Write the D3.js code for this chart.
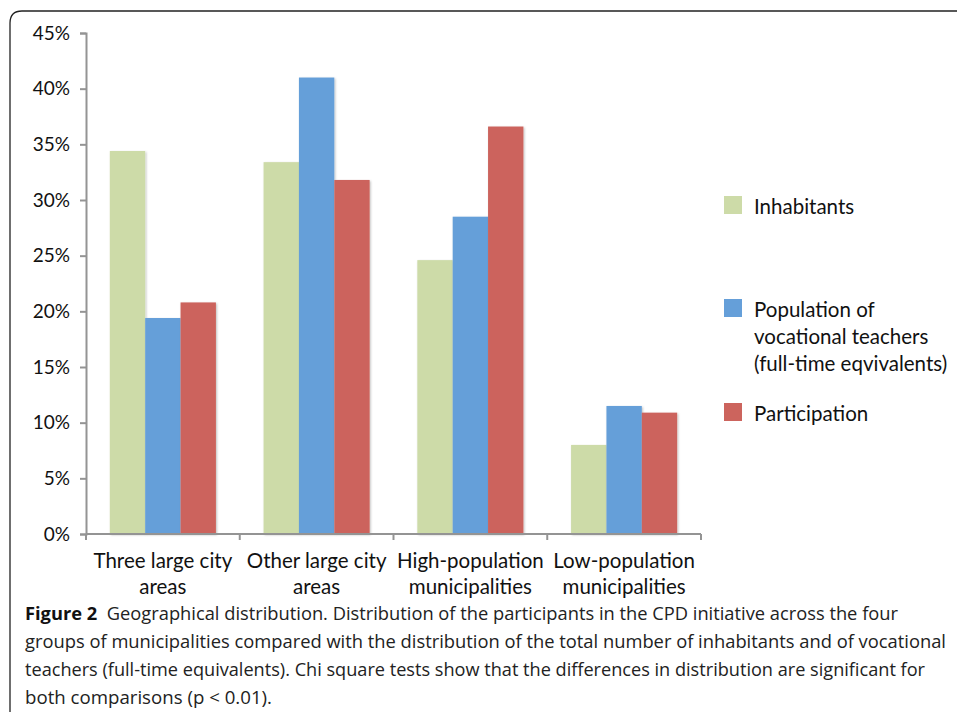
<!DOCTYPE html>
<html>
<head>
<meta charset="utf-8">
<script src="https://cdn.jsdelivr.net/npm/d3@7"></script>
<style>
  html, body { margin: 0; padding: 0; background: #fff; }
  svg { display: block; }
</style>
</head>
<body>
<svg id="chart" width="957" height="716"></svg>
<script>
// Geographic groups of municipalities
const categories = [
  ["Three large city", "areas"],
  ["Other large city", "areas"],
  ["High-population", "municipalities"],
  ["Low-population", "municipalities"]
];
const seriesNames = [
  ["Inhabitants"],
  ["Population of", "vocational teachers", "(full-time eqvivalents)"],
  ["Participation"]
];
// Shares per group, in percent
const inhabitants   = [34.4, 33.4, 24.6, 8.0];
const teachers      = [19.4, 41.0, 28.5, 11.5];
const participation = [20.8, 31.8, 36.6, 10.9];
const yTicks = [0, 5, 10, 15, 20, 25, 30, 35, 40, 45];
const colors = ["#cddba8", "#659fd9", "#cc645d"];

const captionBold = "Figure 2";
const captionLines = [
  "Geographical distribution. Distribution of the participants in the CPD initiative across the four",
  "groups of municipalities compared with the distribution of the total number of inhabitants and of vocational",
  "teachers (full-time equivalents). Chi square tests show that the differences in distribution are significant for",
  "both comparisons (p < 0.01)."
];

const svg = d3.select("#chart");
const values = [inhabitants, teachers, participation];
const labelFont = "Lato, 'Open Sans', sans-serif";

// frame around the figure
svg.append("path")
  .attr("d", "M 970 11 L 22 11 Q 10 11 10 23 L 10 712")
  .attr("fill", "none").attr("stroke", "#222").attr("stroke-width", 1.3);

const plot = { left: 86, right: 701, top: 33, bottom: 534 };
const y = d3.scaleLinear().domain([0, 45]).range([plot.bottom, plot.top]);
const x = d3.scaleBand().domain(d3.range(categories.length))
  .range([plot.left, plot.right]).paddingInner(0.31).paddingOuter(0.155);
const xs = d3.scaleBand().domain(d3.range(values.length)).range([0, x.bandwidth()]);

const defs = svg.append("defs");
const sh = defs.append("filter").attr("id", "shadow").attr("x", "-20%").attr("y", "-20%")
  .attr("width", "140%").attr("height", "140%");
sh.append("feDropShadow").attr("dx", 1).attr("dy", 1).attr("stdDeviation", 1.2)
  .attr("flood-color", "#000").attr("flood-opacity", 0.25);

// gridlines
svg.append("g").selectAll("line").data(yTicks.filter(d => d > 0)).join("line")
  .attr("x1", plot.left).attr("x2", plot.right)
  .attr("y1", d => y(d)).attr("y2", d => y(d))
  .attr("stroke", "#949494").attr("stroke-width", 2).attr("filter", "url(#shadow)");

// y axis
const yAxis = svg.append("g").attr("transform", `translate(${plot.left},0)`)
  .call(d3.axisLeft(y).tickValues(yTicks).tickFormat(d => d + "%").tickSize(6).tickPadding(10));
yAxis.select(".domain").attr("stroke", "#949494").attr("stroke-width", 2);
yAxis.selectAll(".tick line").attr("stroke", "#949494").attr("stroke-width", 2);
yAxis.selectAll(".tick text").attr("font-family", labelFont)
  .attr("font-size", 19).attr("fill", "#111");

// bars
const groups = svg.append("g").selectAll("g").data(categories).join("g")
  .attr("transform", (d, i) => `translate(${x(i)},0)`);
groups.selectAll("rect").data((d, i) => values.map((v, s) => ({ s, v: v[i] }))).join("rect")
  .attr("x", d => xs(d.s)).attr("width", xs.bandwidth())
  .attr("y", d => y(d.v)).attr("height", d => y(0) - y(d.v))
  .attr("fill", d => colors[d.s]).attr("filter", "url(#shadow)");

// x axis
const xAxis = svg.append("g").attr("transform", `translate(0,${plot.bottom})`);
xAxis.append("line").attr("x1", plot.left).attr("x2", plot.right)
  .attr("stroke", "#949494").attr("stroke-width", 2);
const bounds = d3.range(categories.length + 1).map(i => plot.left + i * x.step());
xAxis.selectAll("line.tk").data(bounds).join("line").attr("class", "tk")
  .attr("x1", d => d).attr("x2", d => d).attr("y1", 0).attr("y2", 6)
  .attr("stroke", "#949494").attr("stroke-width", 2);

const xl = svg.append("g").selectAll("text").data(categories).join("text")
  .attr("text-anchor", "middle")
  .attr("font-family", labelFont).attr("font-size", 20.5).attr("fill", "#111")
  .attr("x", (d, i) => x(i) + x.bandwidth() / 2);
xl.selectAll("tspan").data(d => d).join("tspan")
  .attr("x", function () { return this.parentNode.getAttribute("x"); })
  .attr("y", (d, j) => 568 + j * 26).text(d => d);

// legend
const legendY = [196, 299, 403];
const lg = svg.append("g").selectAll("g").data(seriesNames).join("g")
  .attr("transform", (d, i) => `translate(724,${legendY[i]})`);
lg.append("rect").attr("width", 18).attr("height", 18).attr("fill", (d, i) => colors[i]);
const lt = lg.append("text").attr("font-family", labelFont)
  .attr("font-size", 20.5).attr("fill", "#111");
lt.selectAll("tspan").data(d => d).join("tspan")
  .attr("x", 30).attr("y", (d, j) => 18 + j * 27).text(d => d);

// caption
const cap = svg.append("g").attr("font-family", "'Open Sans', sans-serif")
  .attr("font-size", 18).attr("fill", "#222");
const capWidths = [873, 921, 900, 247];
captionLines.forEach((line, i) => {
  const t = cap.append("text").attr("x", 25).attr("y", 620 + i * 28)
    .attr("textLength", capWidths[i]).attr("lengthAdjust", "spacingAndGlyphs");
  if (i === 0) {
    t.append("tspan").attr("font-weight", "bold").attr("fill", "#111").text(captionBold);
    t.append("tspan").text("\u00a0 " + line);
  } else {
    t.text(line);
  }
});
</script>
</body>
</html>
